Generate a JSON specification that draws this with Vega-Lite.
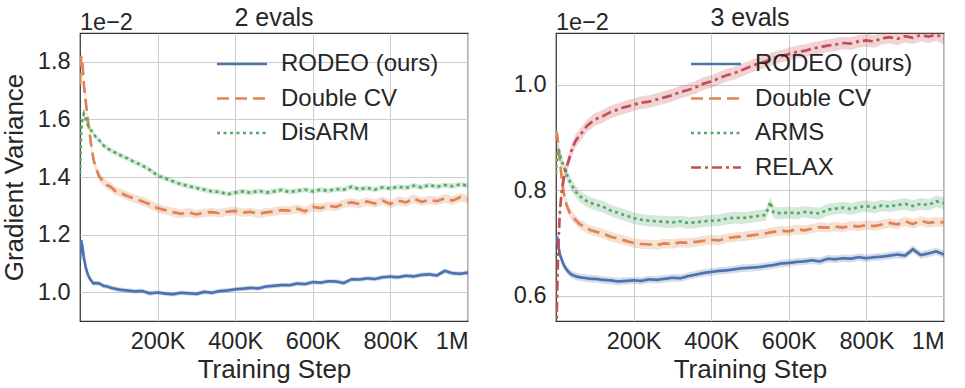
{
  "$schema": "https://vega.github.io/schema/vega-lite/v6.json",
  "background": "white",
  "padding": {"left": 0, "top": 5, "right": 0, "bottom": 0},
  "bounds": "flush",
  "spacing": 88,
  "config": {
    "font": "Liberation Sans",
    "view": {"stroke": "#333333", "strokeWidth": 1.25},
    "axis": {
      "labelFont": "Liberation Sans", "labelFontSize": 23.5, "labelColor": "#262626",
      "titleFont": "Liberation Sans", "titleFontSize": 26, "titleFontWeight": "normal", "titleColor": "#262626",
      "ticks": false, "domain": false, "grid": true, "gridColor": "#cccccc", "gridWidth": 1,
      "labelPadding": 10
    },
    "axisX": {"labelPadding": 8, "titlePadding": 4},
    "axisY": {"titlePadding": 10},
    "title": {"font": "Liberation Sans", "fontSize": 25, "fontWeight": "normal", "color": "#262626", "offset": -20},
    "legend": {
      "orient": "none", "title": null, "padding": 0,
      "symbolType": "M-2,0H2", "symbolSize": 625, "symbolStrokeWidth": 2.7, "symbolOpacity": 1,
      "labelFont": "Liberation Sans", "labelFontSize": 24, "labelColor": "#262626", "labelLimit": 400,
      "labelOffset": 25, "rowPadding": 8.5
    }
  },
  "resolve": {
    "scale": {"x": "independent", "y": "independent", "color": "independent", "strokeDash": "independent"},
    "legend": {"color": "independent", "strokeDash": "independent"}
  },
  "datasets": {
    "namesL": [
      {"s": "R", "series": "RODEO (ours)", "e": 0.008},
      {"s": "D", "series": "Double CV", "e": 0.015},
      {"s": "A", "series": "DisARM", "e": 0.009}
    ],
    "namesR": [
      {"s": "R", "series": "RODEO (ours)", "e": 0.007},
      {"s": "D", "series": "Double CV", "e": 0.009},
      {"s": "A", "series": "ARMS", "e": 0.011},
      {"s": "X", "series": "RELAX", "e": 0.012}
    ],
    "left": [
      {"s":"R","x":0,"v":1.11},{"s":"R","x":3,"v":1.18},{"s":"R","x":6,"v":1.16},{"s":"R","x":10,"v":1.12},{"s":"R","x":15,"v":1.085},{"s":"R","x":20,"v":1.062},{"s":"R","x":25,"v":1.048},{"s":"R","x":30,"v":1.038},{"s":"R","x":35,"v":1.03},{"s":"R","x":40,"v":1.032},{"s":"R","x":50,"v":1.03},{"s":"R","x":60,"v":1.022},{"s":"R","x":70,"v":1.02},{"s":"R","x":80,"v":1.015},{"s":"R","x":90,"v":1.012},
      {"s":"R","x":100,"v":1.009},{"s":"R","x":120,"v":1.006},{"s":"R","x":140,"v":1.003},{"s":"R","x":160,"v":1.004},{"s":"R","x":180,"v":0.996},{"s":"R","x":200,"v":0.999},{"s":"R","x":220,"v":0.995},{"s":"R","x":240,"v":0.993},{"s":"R","x":260,"v":0.998},{"s":"R","x":280,"v":0.996},{"s":"R","x":300,"v":0.994},{"s":"R","x":320,"v":1.001},{"s":"R","x":340,"v":0.998},{"s":"R","x":360,"v":1.004},{"s":"R","x":380,"v":1.006},{"s":"R","x":400,"v":1.01},{"s":"R","x":420,"v":1.012},{"s":"R","x":440,"v":1.015},{"s":"R","x":460,"v":1.013},{"s":"R","x":480,"v":1.02},{"s":"R","x":500,"v":1.022},{"s":"R","x":520,"v":1.025},{"s":"R","x":540,"v":1.024},{"s":"R","x":560,"v":1.03},{"s":"R","x":580,"v":1.028},{"s":"R","x":600,"v":1.035},{"s":"R","x":620,"v":1.033},{"s":"R","x":640,"v":1.038},{"s":"R","x":660,"v":1.037},{"s":"R","x":680,"v":1.032},{"s":"R","x":700,"v":1.045},{"s":"R","x":720,"v":1.044},{"s":"R","x":740,"v":1.048},{"s":"R","x":760,"v":1.046},{"s":"R","x":780,"v":1.052},{"s":"R","x":800,"v":1.054},{"s":"R","x":820,"v":1.052},{"s":"R","x":840,"v":1.057},{"s":"R","x":860,"v":1.055},{"s":"R","x":880,"v":1.06},{"s":"R","x":900,"v":1.062},{"s":"R","x":920,"v":1.058},{"s":"R","x":940,"v":1.074},{"s":"R","x":960,"v":1.066},{"s":"R","x":980,"v":1.064},{"s":"R","x":1000,"v":1.068},
      {"s":"D","x":0,"v":1.72},{"s":"D","x":3,"v":1.82},{"s":"D","x":6,"v":1.8},{"s":"D","x":10,"v":1.72},{"s":"D","x":15,"v":1.66},{"s":"D","x":20,"v":1.6},{"s":"D","x":25,"v":1.55},{"s":"D","x":30,"v":1.5},{"s":"D","x":35,"v":1.46},{"s":"D","x":40,"v":1.435},{"s":"D","x":50,"v":1.4},{"s":"D","x":60,"v":1.385},{"s":"D","x":70,"v":1.372},{"s":"D","x":80,"v":1.365},{"s":"D","x":90,"v":1.352},
      {"s":"D","x":100,"v":1.348},{"s":"D","x":120,"v":1.335},{"s":"D","x":140,"v":1.325},{"s":"D","x":160,"v":1.316},{"s":"D","x":180,"v":1.305},{"s":"D","x":200,"v":1.292},{"s":"D","x":220,"v":1.285},{"s":"D","x":240,"v":1.278},{"s":"D","x":260,"v":1.272},{"s":"D","x":280,"v":1.277},{"s":"D","x":300,"v":1.27},{"s":"D","x":320,"v":1.276},{"s":"D","x":340,"v":1.278},{"s":"D","x":360,"v":1.274},{"s":"D","x":380,"v":1.28},{"s":"D","x":400,"v":1.282},{"s":"D","x":420,"v":1.276},{"s":"D","x":440,"v":1.279},{"s":"D","x":460,"v":1.272},{"s":"D","x":480,"v":1.277},{"s":"D","x":500,"v":1.28},{"s":"D","x":520,"v":1.285},{"s":"D","x":540,"v":1.283},{"s":"D","x":560,"v":1.29},{"s":"D","x":580,"v":1.281},{"s":"D","x":600,"v":1.296},{"s":"D","x":620,"v":1.292},{"s":"D","x":640,"v":1.3},{"s":"D","x":660,"v":1.296},{"s":"D","x":680,"v":1.308},{"s":"D","x":700,"v":1.312},{"s":"D","x":720,"v":1.306},{"s":"D","x":740,"v":1.315},{"s":"D","x":760,"v":1.308},{"s":"D","x":780,"v":1.318},{"s":"D","x":800,"v":1.306},{"s":"D","x":820,"v":1.318},{"s":"D","x":840,"v":1.312},{"s":"D","x":860,"v":1.325},{"s":"D","x":880,"v":1.314},{"s":"D","x":900,"v":1.32},{"s":"D","x":920,"v":1.316},{"s":"D","x":940,"v":1.326},{"s":"D","x":960,"v":1.318},{"s":"D","x":980,"v":1.33},{"s":"D","x":1000,"v":1.322},
      {"s":"A","x":0,"v":1.41},{"s":"A","x":3,"v":1.55},{"s":"A","x":6,"v":1.6},{"s":"A","x":10,"v":1.62},{"s":"A","x":15,"v":1.6},{"s":"A","x":20,"v":1.58},{"s":"A","x":25,"v":1.57},{"s":"A","x":30,"v":1.56},{"s":"A","x":35,"v":1.55},{"s":"A","x":40,"v":1.54},{"s":"A","x":50,"v":1.527},{"s":"A","x":60,"v":1.51},{"s":"A","x":70,"v":1.5},{"s":"A","x":80,"v":1.492},{"s":"A","x":90,"v":1.485},
      {"s":"A","x":100,"v":1.478},{"s":"A","x":120,"v":1.466},{"s":"A","x":140,"v":1.452},{"s":"A","x":160,"v":1.44},{"s":"A","x":180,"v":1.425},{"s":"A","x":200,"v":1.405},{"s":"A","x":220,"v":1.395},{"s":"A","x":240,"v":1.385},{"s":"A","x":260,"v":1.375},{"s":"A","x":280,"v":1.368},{"s":"A","x":300,"v":1.362},{"s":"A","x":320,"v":1.356},{"s":"A","x":340,"v":1.35},{"s":"A","x":360,"v":1.348},{"s":"A","x":380,"v":1.34},{"s":"A","x":400,"v":1.346},{"s":"A","x":420,"v":1.35},{"s":"A","x":440,"v":1.345},{"s":"A","x":460,"v":1.352},{"s":"A","x":480,"v":1.346},{"s":"A","x":500,"v":1.35},{"s":"A","x":520,"v":1.355},{"s":"A","x":540,"v":1.348},{"s":"A","x":560,"v":1.352},{"s":"A","x":580,"v":1.356},{"s":"A","x":600,"v":1.35},{"s":"A","x":620,"v":1.356},{"s":"A","x":640,"v":1.352},{"s":"A","x":660,"v":1.358},{"s":"A","x":680,"v":1.356},{"s":"A","x":700,"v":1.366},{"s":"A","x":720,"v":1.358},{"s":"A","x":740,"v":1.362},{"s":"A","x":760,"v":1.356},{"s":"A","x":780,"v":1.364},{"s":"A","x":800,"v":1.36},{"s":"A","x":820,"v":1.366},{"s":"A","x":840,"v":1.362},{"s":"A","x":860,"v":1.37},{"s":"A","x":880,"v":1.364},{"s":"A","x":900,"v":1.372},{"s":"A","x":920,"v":1.366},{"s":"A","x":940,"v":1.372},{"s":"A","x":960,"v":1.368},{"s":"A","x":980,"v":1.374},{"s":"A","x":1000,"v":1.37}
    ],
    "right": [
      {"s":"R","x":0,"v":0.7},{"s":"R","x":3,"v":0.712},{"s":"R","x":6,"v":0.695},{"s":"R","x":10,"v":0.678},{"s":"R","x":15,"v":0.668},{"s":"R","x":20,"v":0.658},{"s":"R","x":25,"v":0.652},{"s":"R","x":30,"v":0.647},{"s":"R","x":35,"v":0.643},{"s":"R","x":40,"v":0.64},{"s":"R","x":50,"v":0.637},{"s":"R","x":60,"v":0.635},{"s":"R","x":70,"v":0.634},{"s":"R","x":80,"v":0.633},{"s":"R","x":90,"v":0.632},
      {"s":"R","x":100,"v":0.632},{"s":"R","x":120,"v":0.63},{"s":"R","x":140,"v":0.629},{"s":"R","x":160,"v":0.627},{"s":"R","x":180,"v":0.628},{"s":"R","x":200,"v":0.629},{"s":"R","x":220,"v":0.628},{"s":"R","x":240,"v":0.631},{"s":"R","x":260,"v":0.63},{"s":"R","x":280,"v":0.632},{"s":"R","x":300,"v":0.634},{"s":"R","x":320,"v":0.633},{"s":"R","x":340,"v":0.637},{"s":"R","x":360,"v":0.64},{"s":"R","x":380,"v":0.643},{"s":"R","x":400,"v":0.645},{"s":"R","x":420,"v":0.647},{"s":"R","x":440,"v":0.648},{"s":"R","x":460,"v":0.65},{"s":"R","x":480,"v":0.652},{"s":"R","x":500,"v":0.653},{"s":"R","x":520,"v":0.654},{"s":"R","x":540,"v":0.656},{"s":"R","x":560,"v":0.658},{"s":"R","x":580,"v":0.661},{"s":"R","x":600,"v":0.662},{"s":"R","x":620,"v":0.664},{"s":"R","x":640,"v":0.665},{"s":"R","x":660,"v":0.667},{"s":"R","x":680,"v":0.665},{"s":"R","x":700,"v":0.67},{"s":"R","x":720,"v":0.669},{"s":"R","x":740,"v":0.671},{"s":"R","x":760,"v":0.67},{"s":"R","x":780,"v":0.673},{"s":"R","x":800,"v":0.671},{"s":"R","x":820,"v":0.673},{"s":"R","x":840,"v":0.674},{"s":"R","x":860,"v":0.676},{"s":"R","x":880,"v":0.678},{"s":"R","x":900,"v":0.676},{"s":"R","x":920,"v":0.688},{"s":"R","x":940,"v":0.677},{"s":"R","x":960,"v":0.68},{"s":"R","x":980,"v":0.684},{"s":"R","x":1000,"v":0.678},
      {"s":"D","x":0,"v":0.912},{"s":"D","x":3,"v":0.905},{"s":"D","x":6,"v":0.885},{"s":"D","x":10,"v":0.855},{"s":"D","x":15,"v":0.822},{"s":"D","x":20,"v":0.795},{"s":"D","x":25,"v":0.778},{"s":"D","x":30,"v":0.766},{"s":"D","x":35,"v":0.758},{"s":"D","x":40,"v":0.752},{"s":"D","x":50,"v":0.744},{"s":"D","x":60,"v":0.736},{"s":"D","x":70,"v":0.732},{"s":"D","x":80,"v":0.727},{"s":"D","x":90,"v":0.724},
      {"s":"D","x":100,"v":0.722},{"s":"D","x":120,"v":0.718},{"s":"D","x":140,"v":0.712},{"s":"D","x":160,"v":0.708},{"s":"D","x":180,"v":0.704},{"s":"D","x":200,"v":0.7},{"s":"D","x":220,"v":0.698},{"s":"D","x":240,"v":0.697},{"s":"D","x":260,"v":0.696},{"s":"D","x":280,"v":0.699},{"s":"D","x":300,"v":0.698},{"s":"D","x":320,"v":0.701},{"s":"D","x":340,"v":0.7},{"s":"D","x":360,"v":0.702},{"s":"D","x":380,"v":0.704},{"s":"D","x":400,"v":0.706},{"s":"D","x":420,"v":0.705},{"s":"D","x":440,"v":0.709},{"s":"D","x":460,"v":0.711},{"s":"D","x":480,"v":0.712},{"s":"D","x":500,"v":0.714},{"s":"D","x":520,"v":0.716},{"s":"D","x":540,"v":0.718},{"s":"D","x":560,"v":0.721},{"s":"D","x":580,"v":0.723},{"s":"D","x":600,"v":0.722},{"s":"D","x":620,"v":0.726},{"s":"D","x":640,"v":0.724},{"s":"D","x":660,"v":0.727},{"s":"D","x":680,"v":0.73},{"s":"D","x":700,"v":0.729},{"s":"D","x":720,"v":0.731},{"s":"D","x":740,"v":0.729},{"s":"D","x":760,"v":0.733},{"s":"D","x":780,"v":0.731},{"s":"D","x":800,"v":0.734},{"s":"D","x":820,"v":0.732},{"s":"D","x":840,"v":0.735},{"s":"D","x":860,"v":0.738},{"s":"D","x":880,"v":0.735},{"s":"D","x":900,"v":0.741},{"s":"D","x":920,"v":0.736},{"s":"D","x":940,"v":0.742},{"s":"D","x":960,"v":0.738},{"s":"D","x":980,"v":0.74},{"s":"D","x":1000,"v":0.739},
      {"s":"A","x":0,"v":0.83},{"s":"A","x":3,"v":0.875},{"s":"A","x":6,"v":0.878},{"s":"A","x":10,"v":0.868},{"s":"A","x":15,"v":0.855},{"s":"A","x":20,"v":0.845},{"s":"A","x":25,"v":0.835},{"s":"A","x":30,"v":0.826},{"s":"A","x":35,"v":0.818},{"s":"A","x":40,"v":0.81},{"s":"A","x":50,"v":0.798},{"s":"A","x":60,"v":0.789},{"s":"A","x":70,"v":0.784},{"s":"A","x":80,"v":0.779},{"s":"A","x":90,"v":0.776},
      {"s":"A","x":100,"v":0.773},{"s":"A","x":120,"v":0.769},{"s":"A","x":140,"v":0.762},{"s":"A","x":160,"v":0.757},{"s":"A","x":180,"v":0.752},{"s":"A","x":200,"v":0.747},{"s":"A","x":220,"v":0.744},{"s":"A","x":240,"v":0.742},{"s":"A","x":260,"v":0.741},{"s":"A","x":280,"v":0.74},{"s":"A","x":300,"v":0.739},{"s":"A","x":320,"v":0.741},{"s":"A","x":340,"v":0.738},{"s":"A","x":360,"v":0.739},{"s":"A","x":380,"v":0.741},{"s":"A","x":400,"v":0.742},{"s":"A","x":420,"v":0.743},{"s":"A","x":440,"v":0.746},{"s":"A","x":460,"v":0.748},{"s":"A","x":480,"v":0.747},{"s":"A","x":500,"v":0.749},{"s":"A","x":520,"v":0.751},{"s":"A","x":540,"v":0.753},{"s":"A","x":553,"v":0.778},{"s":"A","x":560,"v":0.758},{"s":"A","x":580,"v":0.756},{"s":"A","x":600,"v":0.758},{"s":"A","x":620,"v":0.756},{"s":"A","x":640,"v":0.759},{"s":"A","x":660,"v":0.757},{"s":"A","x":680,"v":0.756},{"s":"A","x":700,"v":0.763},{"s":"A","x":720,"v":0.765},{"s":"A","x":740,"v":0.767},{"s":"A","x":760,"v":0.764},{"s":"A","x":780,"v":0.768},{"s":"A","x":800,"v":0.77},{"s":"A","x":820,"v":0.767},{"s":"A","x":840,"v":0.771},{"s":"A","x":860,"v":0.769},{"s":"A","x":880,"v":0.772},{"s":"A","x":900,"v":0.774},{"s":"A","x":920,"v":0.77},{"s":"A","x":940,"v":0.774},{"s":"A","x":960,"v":0.772},{"s":"A","x":980,"v":0.779},{"s":"A","x":1000,"v":0.775},
      {"s":"X","x":0,"v":0.45},{"s":"X","x":2,"v":0.56},{"s":"X","x":4,"v":0.64},{"s":"X","x":7,"v":0.71},{"s":"X","x":10,"v":0.76},{"s":"X","x":15,"v":0.8},{"s":"X","x":20,"v":0.822},{"s":"X","x":25,"v":0.838},{"s":"X","x":30,"v":0.85},{"s":"X","x":35,"v":0.862},{"s":"X","x":40,"v":0.875},{"s":"X","x":50,"v":0.893},{"s":"X","x":60,"v":0.903},{"s":"X","x":70,"v":0.912},{"s":"X","x":80,"v":0.922},{"s":"X","x":90,"v":0.928},
      {"s":"X","x":100,"v":0.934},{"s":"X","x":120,"v":0.94},{"s":"X","x":140,"v":0.948},{"s":"X","x":160,"v":0.953},{"s":"X","x":180,"v":0.958},{"s":"X","x":200,"v":0.962},{"s":"X","x":220,"v":0.966},{"s":"X","x":240,"v":0.968},{"s":"X","x":260,"v":0.972},{"s":"X","x":280,"v":0.976},{"s":"X","x":300,"v":0.98},{"s":"X","x":320,"v":0.986},{"s":"X","x":340,"v":0.99},{"s":"X","x":360,"v":0.995},{"s":"X","x":380,"v":1.002},{"s":"X","x":400,"v":1.006},{"s":"X","x":420,"v":1.012},{"s":"X","x":440,"v":1.018},{"s":"X","x":460,"v":1.022},{"s":"X","x":480,"v":1.028},{"s":"X","x":500,"v":1.034},{"s":"X","x":520,"v":1.04},{"s":"X","x":540,"v":1.044},{"s":"X","x":560,"v":1.05},{"s":"X","x":580,"v":1.054},{"s":"X","x":600,"v":1.058},{"s":"X","x":620,"v":1.062},{"s":"X","x":640,"v":1.064},{"s":"X","x":660,"v":1.068},{"s":"X","x":680,"v":1.071},{"s":"X","x":700,"v":1.074},{"s":"X","x":720,"v":1.076},{"s":"X","x":740,"v":1.079},{"s":"X","x":760,"v":1.078},{"s":"X","x":780,"v":1.082},{"s":"X","x":800,"v":1.084},{"s":"X","x":820,"v":1.082},{"s":"X","x":840,"v":1.088},{"s":"X","x":860,"v":1.09},{"s":"X","x":880,"v":1.087},{"s":"X","x":900,"v":1.092},{"s":"X","x":920,"v":1.089},{"s":"X","x":940,"v":1.094},{"s":"X","x":960,"v":1.091},{"s":"X","x":980,"v":1.095},{"s":"X","x":1000,"v":1.088}
    ]
  },
  "hconcat": [
    {
      "width": 388, "height": 288,
      "data": {"name": "left"},
      "transform": [{"lookup": "s", "from": {"data": {"name": "namesL"}, "key": "s", "fields": ["series", "e"]}}],
      "title": {"text": "2 evals"},
      "layer": [
        {
          "mark": {"type": "errorband", "opacity": 0.25, "clip": true},
          "encoding": {
            "x": {"field": "x", "type": "quantitative", "title": "Training Step", "scale": {"domain": [0, 1000], "nice": false},
                  "axis": {"values": [200, 400, 600, 800, 1000], "labelExpr": "datum.value >= 1000 ? '1M' : datum.value + 'K'"}},
            "y": {"field": "v", "type": "quantitative", "title": "Gradient Variance", "scale": {"domain": [0.9, 1.9], "nice": false, "zero": false},
                  "axis": {"values": [1.0, 1.2, 1.4, 1.6, 1.8], "format": ".1f"}},
            "yError": {"field": "e"},
            "color": {"field": "series", "type": "nominal", "scale": {"domain": ["RODEO (ours)", "Double CV", "DisARM"], "range": ["#4c72b0", "#dd8452", "#55a868"]},
                      "legend": {"legendX": 148, "legendY": 17}}
          }
        },
        {
          "mark": {"type": "line", "strokeWidth": 2.7, "clip": true},
          "encoding": {
            "x": {"field": "x", "type": "quantitative", "title": "Training Step"},
            "y": {"field": "v", "type": "quantitative", "title": "Gradient Variance"},
            "color": {"field": "series", "type": "nominal", "legend": {"legendX": 148, "legendY": 17}},
            "strokeDash": {"field": "series", "type": "nominal",
                           "scale": {"domain": ["RODEO (ours)", "Double CV", "DisARM"], "range": [[1, 0], [12, 6], [3, 3.5]]},
                           "legend": {"legendX": 148, "legendY": 17}}
          }
        },
        {
          "data": {"values": [{"t": "1e−2"}]},
          "mark": {"type": "text", "align": "left", "baseline": "alphabetic", "dy": -3, "fontSize": 23.5, "color": "#262626", "font": "Liberation Sans"},
          "encoding": {"x": {"datum": 0}, "y": {"datum": 1.9}, "text": {"field": "t"}}
        }
      ]
    },
    {
      "width": 388, "height": 288,
      "data": {"name": "right"},
      "transform": [{"lookup": "s", "from": {"data": {"name": "namesR"}, "key": "s", "fields": ["series", "e"]}}],
      "title": {"text": "3 evals"},
      "layer": [
        {
          "mark": {"type": "errorband", "opacity": 0.25, "clip": true},
          "encoding": {
            "x": {"field": "x", "type": "quantitative", "title": "Training Step", "scale": {"domain": [0, 1000], "nice": false},
                  "axis": {"values": [200, 400, 600, 800, 1000], "labelExpr": "datum.value >= 1000 ? '1M' : datum.value + 'K'"}},
            "y": {"field": "v", "type": "quantitative", "title": null, "scale": {"domain": [0.552, 1.098], "nice": false, "zero": false},
                  "axis": {"values": [0.6, 0.8, 1.0], "format": ".1f", "title": null}},
            "yError": {"field": "e"},
            "color": {"field": "series", "type": "nominal", "scale": {"domain": ["RODEO (ours)", "Double CV", "ARMS", "RELAX"], "range": ["#4c72b0", "#dd8452", "#55a868", "#c44e52"]},
                      "legend": {"legendX": 146, "legendY": 17}}
          }
        },
        {
          "mark": {"type": "line", "strokeWidth": 2.7, "clip": true},
          "encoding": {
            "x": {"field": "x", "type": "quantitative", "title": "Training Step"},
            "y": {"field": "v", "type": "quantitative", "title": null},
            "color": {"field": "series", "type": "nominal", "legend": {"legendX": 146, "legendY": 17}},
            "strokeDash": {"field": "series", "type": "nominal",
                           "scale": {"domain": ["RODEO (ours)", "Double CV", "ARMS", "RELAX"], "range": [[1, 0], [12, 6], [3, 3.5], [10, 4, 3, 4]]},
                           "legend": {"legendX": 146, "legendY": 17}}
          }
        },
        {
          "data": {"values": [{"t": "1e−2"}]},
          "mark": {"type": "text", "align": "left", "baseline": "alphabetic", "dy": -3, "fontSize": 23.5, "color": "#262626", "font": "Liberation Sans"},
          "encoding": {"x": {"datum": 0}, "y": {"datum": 1.098}, "text": {"field": "t"}}
        }
      ]
    }
  ]
}
